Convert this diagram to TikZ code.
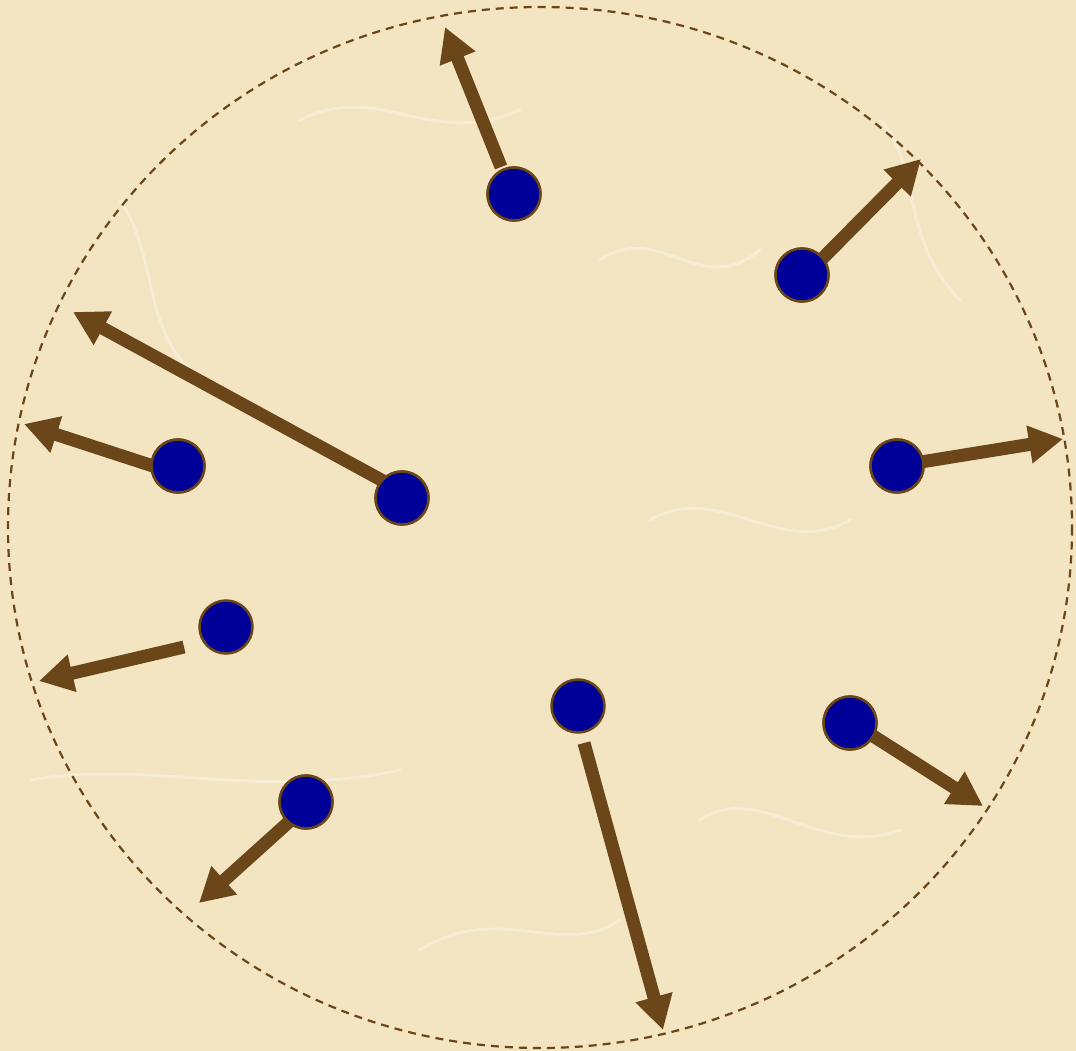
\documentclass[tikz,border=0pt]{standalone}
\usetikzlibrary{arrows.meta}
\definecolor{paper}{HTML}{F3E4C2}
\definecolor{fibre}{HTML}{FAF1DE}
\definecolor{bark}{HTML}{6A4618}
\definecolor{dotblue}{HTML}{000099}
\tikzset{
  particle/.style={circle, fill=dotblue, draw=bark, line width=2.5pt, minimum size=53pt, inner sep=0pt},
  push/.style={draw=bark, line width=13pt, -{Triangle[length=34pt,width=36pt]}},
  rim/.style={draw=bark, line width=2.2pt, dash pattern=on 8pt off 6pt},
  strand/.style={draw=fibre, line width=3pt, line cap=round, opacity=0.7}
}
\begin{document}
\begin{tikzpicture}[x=1pt,y=-1pt]
\fill[paper] (0,0) rectangle (1076,1051);
\useasboundingbox (0,0) rectangle (1076,1051);
% faint paper fibres
\draw[strand] (300,120) .. controls (380,80) and (430,150) .. (520,110);
\draw[strand] (600,260) .. controls (660,220) and (700,300) .. (760,250);
\draw[strand] (120,200) .. controls (160,260) and (140,330) .. (200,380);
\draw[strand] (30,780) .. controls (150,760) and (260,800) .. (400,770);
\draw[strand] (650,520) .. controls (720,480) and (780,560) .. (850,520);
\draw[strand] (880,120) .. controls (920,160) and (900,240) .. (960,300);
\draw[strand] (420,950) .. controls (500,900) and (560,960) .. (620,920);
\draw[strand] (700,820) .. controls (760,780) and (820,860) .. (900,830);
% boundary
\draw[rim] (540,527.5) ellipse [x radius=532, y radius=520.5];
% particles
\node[particle] (p1) at (514,194) {};
\node[particle] (p2) at (802,275) {};
\node[particle] (p3) at (178,466) {};
\node[particle] (p4) at (402,498) {};
\node[particle] (p5) at (897,466) {};
\node[particle] (p6) at (226,627) {};
\node[particle] (p7) at (578,706) {};
\node[particle] (p8) at (850,723) {};
\node[particle] (p9) at (306,802) {};
% arrow ends
\coordinate (s1) at (501,167);  \coordinate (e1) at (445,27);
\coordinate (s2) at (819,262);  \coordinate (e2) at (921,159);
\coordinate (s3) at (153,466);  \coordinate (e3) at (24,424);
\coordinate (s4) at (385,482);  \coordinate (e4) at (73,312);
\coordinate (s5) at (921,462);  \coordinate (e5) at (1063,439);
\coordinate (s6) at (184,647);  \coordinate (e6) at (39,681);
\coordinate (s7) at (584,743);  \coordinate (e7) at (663,1030);
\coordinate (s8) at (870,734);  \coordinate (e8) at (983,806);
\coordinate (s9) at (291,820);  \coordinate (e9) at (199,903);
\foreach \i in {1,...,9} {\draw[push] (s\i) -- (e\i);}
% redraw dots on top where arrows start inside them
\foreach \i in {1,2,3,4,5,8,9} {\node[particle] at (p\i) {};}
\end{tikzpicture}
\end{document}
